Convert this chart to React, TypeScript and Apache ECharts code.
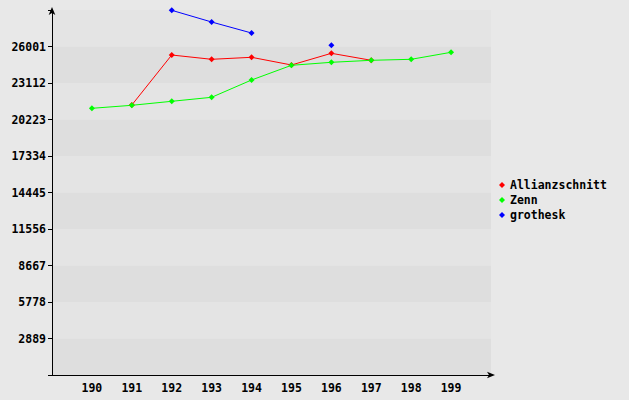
import React, { useEffect, useRef } from "react";
import * as echarts from "echarts";

const years = [190, 191, 192, 193, 194, 195, 196, 197, 198, 199];
const allianzschnitt = [null, 21370, 25328, 24988, 25146, 24537, 25462, 24908, null, null];
const zenn = [21109, 21347, 21663, 21980, 23349, 24513, 24750, 24908, 24988, 25542];
const grothesk = [null, null, 28866, 27940, 27069, null, 26095, null, null, null];
const yTicks = [2889, 5778, 8667, 11556, 14445, 17334, 20223, 23112, 26001];

const FONT = "'DejaVu Sans Mono', monospace";

function pairs(vals: (number | null)[]) {
  return years.map((y, i) => [y, vals[i] === null ? null : vals[i]]);
}

export default function App() {
  const ref = useRef<HTMLDivElement>(null);
  useEffect(() => {
    const chart = echarts.init(ref.current!, null, { renderer: "svg" });
    const mk = (name: string, vals: (number | null)[], color: string) => ({
      name,
      type: "line",
      data: pairs(vals),
      connectNulls: false,
      symbol: "diamond",
      symbolSize: 6,
      itemStyle: { color },
      lineStyle: { color, width: 1 },
    });
    chart.setOption({
      animation: false,
      backgroundColor: "#e8e8e8",
      textStyle: { fontFamily: FONT },
      grid: { left: 52, right: 138, top: 10, bottom: 25, containLabel: false },
      legend: {
        orient: "vertical",
        left: 494,
        top: 174,
        icon: "diamond",
        itemWidth: 6,
        itemHeight: 6,
        itemGap: 3,
        textStyle: { fontFamily: FONT, fontWeight: "bold", fontSize: 11.5, color: "#000" },
        data: ["Allianzschnitt", "Zenn", "grothesk"],
      },
      xAxis: {
        type: "value",
        min: 189,
        max: 200,
        interval: 1,
        axisLine: {
          show: true,
          lineStyle: { color: "#000", width: 1 },
          symbol: ["none", "arrow"],
          symbolSize: [5, 8],
          symbolOffset: [0, 4],
        },
        axisTick: { show: false },
        splitLine: { show: false },
        axisLabel: {
          margin: 7,
          fontFamily: FONT,
          fontWeight: "bold",
          fontSize: 11.5,
          color: "#000",
          formatter: (v: number) => (years.includes(v) ? String(v) : ""),
        },
      },
      yAxis: {
        type: "value",
        min: 0,
        max: 28890,
        interval: 2889,
        axisLine: {
          show: true,
          lineStyle: { color: "#000", width: 1 },
          symbol: ["none", "arrow"],
          symbolSize: [5, 8],
          symbolOffset: [0, 3],
        },
        axisTick: { show: true, length: 4, lineStyle: { color: "#000" } },
        splitLine: { show: false },
        splitArea: { show: true, areaStyle: { color: ["#dedede", "#e4e4e4"] } },
        axisLabel: {
          margin: 6,
          fontFamily: FONT,
          fontWeight: "bold",
          fontSize: 11.5,
          color: "#000",
          formatter: (v: number) => (yTicks.includes(v) ? String(v) : ""),
        },
      },
      series: [
        mk("Allianzschnitt", allianzschnitt, "#ff0000"),
        mk("Zenn", zenn, "#00ff00"),
        mk("grothesk", grothesk, "#0000ff"),
      ],
    });
    return () => chart.dispose();
  }, []);
  return (
    <div
      ref={ref}
      style={{ position: "fixed", left: 0, top: 0, width: 629, height: 400 }}
    />
  );
}
